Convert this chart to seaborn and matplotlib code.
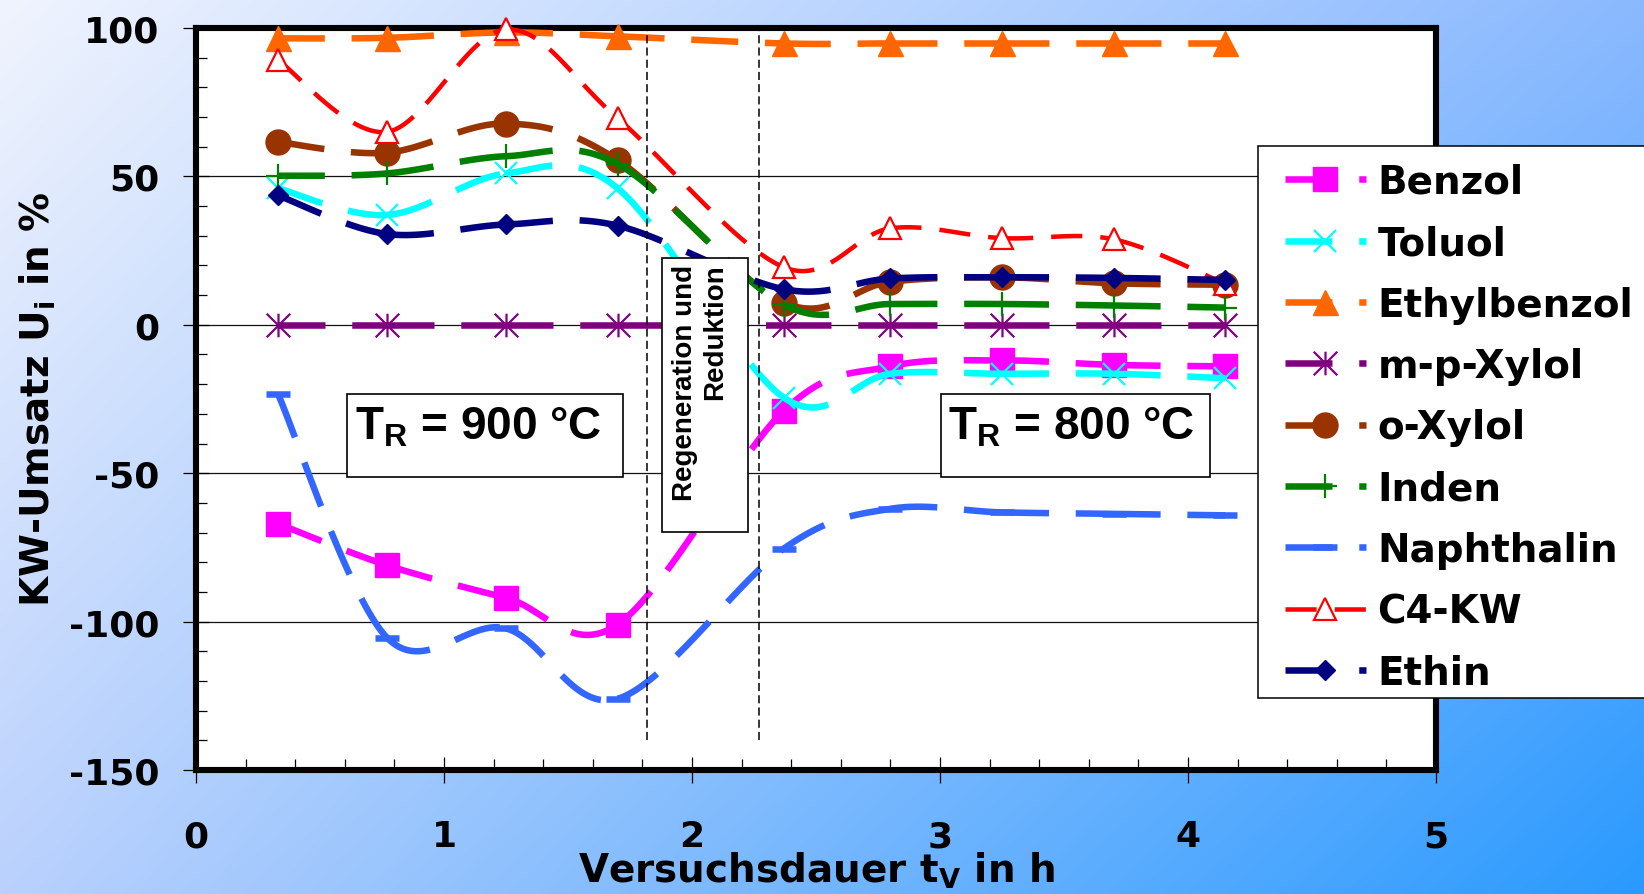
import numpy as np
import pandas as pd
import matplotlib
matplotlib.use("Agg")
import matplotlib.pyplot as plt
import seaborn as sns
from matplotlib.lines import Line2D
from matplotlib.patches import Rectangle
from matplotlib.path import Path
from matplotlib.ticker import MultipleLocator
from matplotlib.font_manager import FontProperties

# ---------------------------------------------------------------- data
# Versuchsdauer t_V in h
t_v = [0.33, 0.77, 1.25, 1.70, 2.37, 2.80, 3.25, 3.70, 4.15]

# KW-Umsatz U_i in %
benzol      = [-67.0, -81.0, -92.0, -101.0, -29.0, -14.0, -12.0, -13.5, -14.0]
toluol      = [46.0, 37.0, 51.0, 46.0, -24.5, -16.5, -16.5, -16.5, -18.0]
ethylbenzol = [96.5, 96.7, 98.5, 97.2, 94.8, 94.8, 94.8, 94.8, 94.8]
mp_xylol    = [0.0, 0.0, 0.0, 0.0, 0.0, 0.0, 0.0, 0.0, 0.0]
o_xylol     = [61.6, 58.0, 67.8, 55.5, 7.5, 14.5, 16.0, 14.0, 13.5]
inden       = [50.2, 51.0, 56.8, 54.2, 6.8, 7.0, 7.0, 6.5, 5.8]
naphthalin  = [-23.2, -105.4, -102.3, -126.0, -75.4, -62.0, -63.2, -63.7, -64.2]
c4_kw       = [89.2, 65.0, 99.5, 69.6, 19.4, 32.5, 29.2, 28.8, 13.8]
ethin       = [43.6, 30.6, 33.8, 33.4, 12.0, 15.6, 16.0, 15.8, 15.1]

series_names = ["Benzol", "Toluol", "Ethylbenzol", "m-p-Xylol", "o-Xylol",
                "Inden", "Naphthalin", "C4-KW", "Ethin"]
series_values = [benzol, toluol, ethylbenzol, mp_xylol, o_xylol,
                 inden, naphthalin, c4_kw, ethin]

x_ticks = [0, 1, 2, 3, 4, 5]
y_ticks = [-150, -100, -50, 0, 50, 100]

# start and end of the regeneration / reduction phase (h)
phase_start, phase_end = 1.82, 2.27

# ---------------------------------------------------------------- styles
W, H = 1644, 895

asterisk = Path([(0, -1), (0, 1), (-1, -1), (1, 1), (-1, 1), (1, -1)],
                [Path.MOVETO, Path.LINETO, Path.MOVETO, Path.LINETO,
                 Path.MOVETO, Path.LINETO])

HEAVY = 4.7
HEAVY_DASH = (0, (7.2, 4.1))
styles = {
    "Benzol":      dict(color="#FF00FF", marker="s", ms=17, mfc="#FF00FF", mew=1.0),
    "Toluol":      dict(color="#00FFFF", marker="x", ms=16, mfc="#00FFFF", mew=1.6),
    "Ethylbenzol": dict(color="#FF6600", marker="^", ms=18, mfc="#FF6600", mew=1.0),
    "m-p-Xylol":   dict(color="#800080", marker=asterisk, ms=17, mfc="#800080", mew=1.6),
    "o-Xylol":     dict(color="#993300", marker="o", ms=18, mfc="#993300", mew=1.0),
    "Inden":       dict(color="#008000", marker="+", ms=17, mfc="#008000", mew=1.6),
    "Naphthalin":  dict(color="#3366FF", marker="_", ms=17, mfc="#3366FF", mew=HEAVY),
    "C4-KW":       dict(color="#FF0000", marker="^", ms=16, mfc="white", mew=1.6),
    "Ethin":       dict(color="#000080", marker="D", ms=10, mfc="#000080", mew=1.0),
}
line_width = {n: HEAVY for n in series_names}
line_width["C4-KW"] = 3.25
line_dash = {n: HEAVY_DASH for n in series_names}
line_dash["C4-KW"] = (0, (6.9, 4.0))


def smooth_segments(x, y, n=40):
    """Bezier smoothing through the points, one piece per interval."""
    pts = np.column_stack([x, y]).astype(float)
    ext = np.vstack([pts[0], pts, pts[-1]])
    t = np.linspace(0, 1, n)[:, None]
    rows = []
    for i in range(len(pts) - 1):
        p0, p1, p2, p3 = ext[i], ext[i + 1], ext[i + 2], ext[i + 3]
        c1 = p1 + (p2 - p0) / 6.0
        c2 = p2 - (p3 - p1) / 6.0
        seg = ((1 - t) ** 3) * p1 + 3 * ((1 - t) ** 2) * t * c1 \
            + 3 * (1 - t) * t ** 2 * c2 + t ** 3 * p2
        rows.append(pd.DataFrame({"x": seg[:, 0], "y": seg[:, 1], "seg": i}))
    return pd.concat(rows, ignore_index=True)


# ---------------------------------------------------------------- figure
sns.set_theme(style="ticks")
plt.rcParams["font.family"] = ["DejaVu Sans"]
plt.rcParams["font.weight"] = "bold"
plt.rcParams["axes.unicode_minus"] = False
plt.rcParams["text.color"] = "black"
plt.rcParams["xtick.color"] = "black"
plt.rcParams["ytick.color"] = "black"
plt.rcParams["xtick.labelcolor"] = "black"
plt.rcParams["ytick.labelcolor"] = "black"

fig = plt.figure(figsize=(W / 100, H / 100), dpi=100)

# blue gradient background
bg = fig.add_axes([0, 0, 1, 1], zorder=-10)
tl = np.array([0xF0, 0xF4, 0xFE]) / 255
tr = np.array([0x8B, 0xB9, 0xFF]) / 255
bl = np.array([0xBA, 0xD1, 0xFD]) / 255
br = np.array([0x2A, 0x9A, 0xFF]) / 255
u = np.linspace(0, 1, 400)[None, :, None]
v = np.linspace(0, 1, 220)[:, None, None]
grad = tl * (1 - u) * (1 - v) + tr * u * (1 - v) + bl * (1 - u) * v + br * u * v
bg.imshow(grad, aspect="auto", extent=[0, 1, 0, 1], interpolation="bilinear")
bg.set_axis_off()

ax = fig.add_axes([196 / W, 1 - 771 / H, 1240 / W, 742 / H])
ax.set_facecolor("white")

for i, (name, vals) in enumerate(zip(series_names, series_values)):
    st = styles[name]
    z = 3 + i
    curve = smooth_segments(t_v, vals)
    sns.lineplot(data=curve, x="x", y="y", units="seg", estimator=None,
                 sort=False, color=st["color"], lw=line_width[name],
                 linestyle=line_dash[name], dash_capstyle="butt",
                 ax=ax, legend=False, zorder=z, clip_on=False)
    ax.plot(t_v, vals, ls="none", marker=st["marker"], ms=st["ms"],
            mfc=st["mfc"], mec=st["color"], mew=st["mew"], zorder=z + 0.5,
            clip_on=False)

# phase boundaries
ax.vlines([phase_start, phase_end], -140, 100, colors="black", lw=1.1,
          linestyles=[(0, (5.3, 2.7))], zorder=20)

ax.set_xlim(0, 5)
ax.set_ylim(-150, 100)
ax.set_xticks(x_ticks)
ax.set_yticks(y_ticks)
ax.set_xticklabels([str(v) for v in x_ticks])
ax.set_yticklabels([str(v) for v in y_ticks])
ax.xaxis.set_minor_locator(MultipleLocator(0.2))
ax.yaxis.set_minor_locator(MultipleLocator(10))
ax.set_xlabel("")
ax.set_ylabel("")
ax.set_axisbelow(True)
ax.grid(axis="y", which="major", color="#111111", lw=0.9)
ax.grid(axis="x", visible=False)

ax.tick_params(axis="both", which="major", direction="inout", length=19,
               width=0.9, color="black", labelcolor="black", labelsize=26)
ax.tick_params(axis="y", which="major", pad=17)
ax.tick_params(axis="x", which="major", pad=26)
ax.tick_params(axis="both", which="minor", direction="in", length=8,
               width=0.9, color="black")
for lab in ax.get_xticklabels() + ax.get_yticklabels():
    lab.set_fontweight("bold")
    lab.set_color("black")
for sp in ax.spines.values():
    sp.set_visible(True)
    sp.set_linewidth(4.4)
    sp.set_color("black")

# annotation boxes
box_kw = dict(fc="white", ec="black", lw=1.2, zorder=30, clip_on=False)
ax.add_patch(Rectangle((0.610, -51.3), 1.113, 28.0, **box_kw))
ax.add_patch(Rectangle((3.003, -51.3), 1.086, 28.0, **box_kw))
ax.add_patch(Rectangle((1.878, -69.9), 0.349, 92.4, **box_kw))

tr_font = dict(fontfamily="Liberation Sans", fontweight="bold", fontsize=33,
               va="baseline", ha="left", color="black", zorder=31)
ax.text(0.642, -38.4, "T$_\\mathregular{R}$ = 900 °C", **tr_font)
ax.text(3.033, -38.4, "T$_\\mathregular{R}$ = 800 °C", **tr_font)
ax.text(2.032, 20.6, "Regeneration und\nReduktion", rotation=90,
        ha="center", va="top", multialignment="right",
        fontfamily="Liberation Sans", fontweight="bold", fontsize=20,
        linespacing=1.2, color="black", zorder=31)

# axis titles
fig.text(38 / W, 1 - 399 / H, "KW-Umsatz U$_\\mathregular{i}$ in %",
         rotation=90, ha="center", va="center", fontsize=28,
         fontweight="bold", color="black")
fig.text(816 / W, 1 - 851 / H, "Versuchsdauer t$_\\mathregular{V}$ in h",
         ha="center", va="top", fontsize=28, fontweight="bold", color="black")

# legend with its own frame
fig.add_artist(Rectangle((1258 / W, 1 - 699 / H), 420 / W, 552 / H,
                         transform=fig.transFigure, fc="white", ec="black",
                         lw=1.1, zorder=3))
handles = []
for name in series_names:
    st = styles[name]
    handles.append(Line2D([], [], color=st["color"], lw=line_width[name],
                          linestyle=line_dash[name], dash_capstyle="butt",
                          marker=st["marker"], ms=st["ms"], mfc=st["mfc"],
                          mec=st["color"], mew=st["mew"]))
leg = fig.legend(handles, series_names, loc="upper left",
                 bbox_to_anchor=(1285 / W, 1 - 164 / H), frameon=False,
                 borderpad=0, borderaxespad=0, handlelength=2.08,
                 handletextpad=0.3, labelspacing=0.6, numpoints=1,
                 prop=FontProperties(family="DejaVu Sans", weight="bold", size=28))
for txt in leg.get_texts():
    txt.set_color("black")
leg.set_zorder(5)

fig.savefig("out.png", dpi=100)
